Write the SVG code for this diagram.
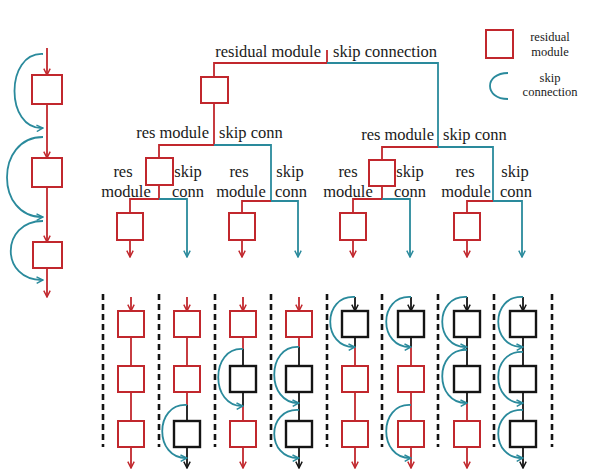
<svg xmlns="http://www.w3.org/2000/svg" width="598" height="473" viewBox="0 0 598 473">
<style>
.r{stroke:#c1272d;stroke-width:1.8;fill:none}
.t{stroke:#2a8a9c;stroke-width:1.8;fill:none}
.k{stroke:#141414;stroke-width:1.8;fill:none}
.rb{stroke:#c1272d;stroke-width:2;fill:#fff}
.kb{stroke:#141414;stroke-width:2.4;fill:#fff}
.d{stroke:#141414;stroke-width:2.6;stroke-dasharray:6 4;fill:none}
.ra{marker-end:url(#mr)}
.ta{marker-end:url(#mt)}
.ka{marker-end:url(#mk)}
text{font-family:"Liberation Serif","DejaVu Serif",serif;fill:#1a1a1a;font-size:16.5px}
.lg{font-size:12.5px;text-anchor:middle}
.m{text-anchor:middle}
.e{text-anchor:end}
</style>
<defs>
<marker id="mr" viewBox="0 0 10 10" refX="9" refY="5" markerWidth="8" markerHeight="8" markerUnits="userSpaceOnUse" orient="auto"><path d="M1,1 L9,5 L1,9" fill="none" stroke="#c1272d" stroke-width="1.8"/></marker>
<marker id="mt" viewBox="0 0 10 10" refX="9" refY="5" markerWidth="8" markerHeight="8" markerUnits="userSpaceOnUse" orient="auto"><path d="M1,1 L9,5 L1,9" fill="none" stroke="#2a8a9c" stroke-width="1.8"/></marker>
<marker id="mk" viewBox="0 0 10 10" refX="9" refY="5" markerWidth="8" markerHeight="8" markerUnits="userSpaceOnUse" orient="auto"><path d="M1,1 L9,5 L1,9" fill="none" stroke="#141414" stroke-width="1.8"/></marker>
</defs>

<!-- Left chain -->
<g id="left-chain-connectors">
<path class="r ra" d="M47,48 V75"/>
<path class="r ra" d="M47,104 V158"/>
<path class="r ra" d="M47,187 V242"/>
<path class="r ra" d="M47,268 V297"/>
<path class="t ta" d="M43,54 C5,52 5,130 43,128"/>
<path class="t ta" d="M43,137 C-5,137 -5,218 43,217"/>
<path class="t ta" d="M43,221 C0,221 0,281 43,280"/>
</g>
<g id="left-box1"><rect class="rb" x="32" y="75" width="30" height="29"/></g>
<g id="left-box2"><rect class="rb" x="32" y="158" width="30" height="29"/></g>
<g id="left-box3"><rect class="rb" x="33" y="242" width="29" height="26"/></g>

<!-- Tree connectors -->
<g id="tree-connectors">
<path class="r" d="M327,50 V63 H214 V77"/>
<path class="t" d="M327,63 H438 V147"/>
<path class="r" d="M214,103 V145 H159 V158"/>
<path class="t" d="M214,145 H271 V201"/>
<path class="r" d="M159,185 V199 H130 V213"/>
<path class="t ta" d="M159,199 H187 V257"/>
<path class="r ra" d="M130,240 V257"/>
<path class="r" d="M271,201 H242 V213"/>
<path class="t ta" d="M271,201 H298 V257"/>
<path class="r ra" d="M242,240 V257"/>
<path class="r" d="M438,147 H382 V160"/>
<path class="t" d="M438,147 H493 V201"/>
<path class="r" d="M382,186 V199 H353 V213"/>
<path class="t ta" d="M382,199 H410 V257"/>
<path class="r ra" d="M353,240 V257"/>
<path class="r" d="M493,201 H467 V213"/>
<path class="t ta" d="M493,201 H522 V257"/>
<path class="r ra" d="M467,240 V257"/>
</g>

<g id="tree-root"><rect class="rb" x="201" y="77" width="27" height="26"/>
<text class="e" x="321" y="57">residual module</text><text x="333" y="57">skip connection</text></g>
<g id="tree-l"><rect class="rb" x="146" y="158" width="27" height="27"/>
<text class="e" x="209" y="138">res module</text><text x="219" y="138">skip conn</text></g>
<g id="tree-r"><rect class="rb" x="369" y="160" width="26" height="26"/>
<text class="e" x="434" y="140">res module</text><text x="443" y="140">skip conn</text></g>
<g id="tree-ll"><rect class="rb" x="117" y="213" width="26" height="27"/>
<text class="m" x="123" y="177">res</text><text class="m" x="126" y="197">module</text>
<text class="m" x="188" y="177">skip</text><text class="m" x="188" y="197">conn</text></g>
<g id="tree-lr"><rect class="rb" x="229" y="213" width="26" height="27"/>
<text class="m" x="239" y="177">res</text><text class="m" x="241" y="197">module</text>
<text class="m" x="290" y="177">skip</text><text class="m" x="291" y="197">conn</text></g>
<g id="tree-rl"><rect class="rb" x="340" y="213" width="26" height="27"/>
<text class="m" x="348" y="177">res</text><text class="m" x="348" y="197">module</text>
<text class="m" x="410" y="177">skip</text><text class="m" x="410" y="197">conn</text></g>
<g id="tree-rr"><rect class="rb" x="454" y="213" width="26" height="27"/>
<text class="m" x="465" y="177">res</text><text class="m" x="466" y="197">module</text>
<text class="m" x="515" y="177">skip</text><text class="m" x="516" y="197">conn</text></g>

<!-- Legend -->
<g id="legend-res"><rect class="rb" x="486" y="30" width="27" height="28"/>
<text class="lg" x="550" y="41">residual</text><text class="lg" x="550" y="56">module</text></g>
<g id="legend-skip"><path class="t" d="M508,73 C484,73 484,99 508,99"/>
<text class="lg" x="550" y="82">skip</text><text class="lg" x="550" y="96">connection</text></g>

<!-- Dashed separators -->
<g id="separators">
<path class="d" d="M103,294 V447"/><path class="d" d="M159,294 V447"/><path class="d" d="M215,294 V447"/>
<path class="d" d="M271,294 V447"/><path class="d" d="M327,294 V447"/><path class="d" d="M382,294 V447"/>
<path class="d" d="M438,294 V447"/><path class="d" d="M494,294 V447"/><path class="d" d="M552,294 V447"/>
</g>

<!-- Unrolled paths: connectors -->
<g id="unrolled-connectors">
<!-- col1 -->
<path class="r ra" d="M131,297 V311"/><path class="r" d="M131,337 V366"/><path class="r" d="M131,392 V421"/><path class="r ra" d="M131,447 V468"/>
<!-- col2 -->
<path class="r ra" d="M187,297 V311"/><path class="r" d="M187,337 V366"/><path class="r" d="M187,392 V405"/><path class="k" d="M187,405 V421"/><path class="k ka" d="M187,447 V468"/>
<path class="t ta" d="M187,405 C154,403 154,459 187,458"/>
<!-- col3 -->
<path class="r ra" d="M243,297 V311"/><path class="r" d="M243,337 V349"/><path class="k" d="M243,349 V366"/><path class="k" d="M243,392 V406"/><path class="r" d="M243,406 V421"/><path class="r ra" d="M243,447 V468"/>
<path class="t ta" d="M243,349 C210,347 210,407 243,406"/>
<!-- col4 -->
<path class="r ra" d="M299,297 V311"/><path class="r" d="M299,337 V347"/><path class="k" d="M299,347 V366"/><path class="k" d="M299,392 V421"/><path class="k ka" d="M299,447 V468"/>
<path class="t ta" d="M299,347 C266,345 266,404 299,403"/>
<path class="t ta" d="M299,410 C266,408 266,459 299,458"/>
<!-- col5 -->
<path class="k ka" d="M355,297 V311"/><path class="k" d="M355,337 V347"/><path class="r" d="M355,347 V366"/><path class="r" d="M355,392 V421"/><path class="r ra" d="M355,447 V468"/>
<path class="t ta" d="M355,297 C322,295 322,348 355,347"/>
<!-- col6 -->
<path class="k ka" d="M411,297 V311"/><path class="k" d="M411,337 V347"/><path class="r" d="M411,347 V366"/><path class="r" d="M411,392 V421"/><path class="r ra" d="M411,447 V468"/>
<path class="t ta" d="M411,297 C378,295 378,348 411,347"/>
<path class="t ta" d="M411,405 C378,403 378,459 411,458"/>
<!-- col7 -->
<path class="k ka" d="M467,297 V311"/><path class="k" d="M467,337 V366"/><path class="k" d="M467,392 V403"/><path class="r" d="M467,403 V421"/><path class="r ra" d="M467,447 V468"/>
<path class="t ta" d="M467,297 C434,295 434,348 467,347"/>
<path class="t ta" d="M467,350 C434,348 434,404 467,403"/>
<!-- col8 -->
<path class="k ka" d="M523,297 V311"/><path class="k" d="M523,337 V366"/><path class="k" d="M523,392 V421"/><path class="k ka" d="M523,447 V468"/>
<path class="t ta" d="M523,297 C490,295 490,348 523,347"/>
<path class="t ta" d="M523,352 C490,350 490,404 523,403"/>
<path class="t ta" d="M523,410 C490,408 490,459 523,458"/>
</g>

<!-- Unrolled path boxes -->
<g id="col1"><rect class="rb" x="118" y="311" width="26" height="26"/><rect class="rb" x="118" y="366" width="26" height="26"/><rect class="rb" x="118" y="421" width="26" height="26"/></g>
<g id="col2"><rect class="rb" x="174" y="311" width="26" height="26"/><rect class="rb" x="174" y="366" width="26" height="26"/><rect class="kb" x="174" y="421" width="26" height="26"/></g>
<g id="col3"><rect class="rb" x="230" y="311" width="26" height="26"/><rect class="kb" x="230" y="366" width="26" height="26"/><rect class="rb" x="230" y="421" width="26" height="26"/></g>
<g id="col4"><rect class="rb" x="286" y="311" width="26" height="26"/><rect class="kb" x="286" y="366" width="26" height="26"/><rect class="kb" x="286" y="421" width="26" height="26"/></g>
<g id="col5"><rect class="kb" x="342" y="311" width="26" height="26"/><rect class="rb" x="342" y="366" width="26" height="26"/><rect class="rb" x="342" y="421" width="26" height="26"/></g>
<g id="col6"><rect class="kb" x="398" y="311" width="26" height="26"/><rect class="rb" x="398" y="366" width="26" height="26"/><rect class="rb" x="398" y="421" width="26" height="26"/></g>
<g id="col7"><rect class="kb" x="454" y="311" width="26" height="26"/><rect class="kb" x="454" y="366" width="26" height="26"/><rect class="rb" x="454" y="421" width="26" height="26"/></g>
<g id="col8"><rect class="kb" x="510" y="311" width="26" height="26"/><rect class="kb" x="510" y="366" width="26" height="26"/><rect class="kb" x="510" y="421" width="26" height="26"/></g>
</svg>
